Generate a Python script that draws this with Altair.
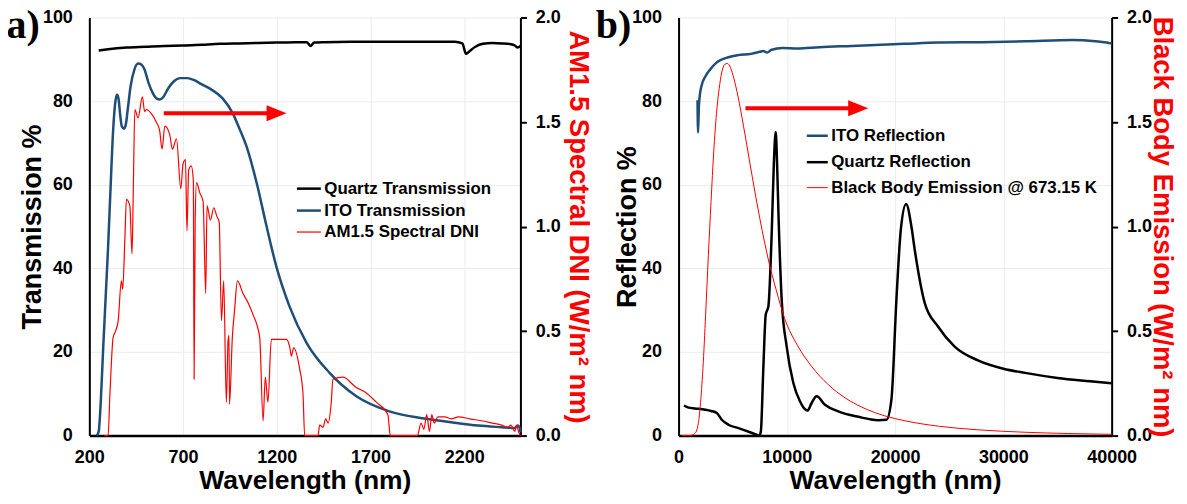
import altair as alt
import pandas as pd

FONT = "Liberation Sans"
BLUE = "#1F4E79"

# ---------------- Panel a: transmission ----------------
quartz_t_wl = [250, 300, 400, 500, 600, 700, 800, 900, 1000, 1100, 1200, 1300, 1360, 1380, 1400,
               1450, 1600, 1800, 2000, 2150, 2190, 2210, 2230, 2260, 2300, 2350, 2400, 2450, 2470,
               2485, 2500]
quartz_t = [92.1, 92.4, 92.8, 93.0, 93.2, 93.3, 93.5, 93.7, 93.8, 93.9, 94.0, 94.1, 94.1, 93.2, 94.0,
            94.1, 94.2, 94.2, 94.2, 94.2, 93.8, 91.3, 92.0, 93.0, 93.7, 93.9, 93.8, 93.6, 93.3,
            92.8, 93.2]

ito_t_wl = [240, 250, 262, 274, 287, 300, 314, 327, 338, 348, 356, 364, 373, 385, 395, 405, 420,
            440, 460, 479, 495, 515, 540, 560, 576, 595, 620, 650, 685, 723, 760, 800, 850, 910,
            966, 1000, 1040, 1093, 1146, 1198, 1269, 1359, 1482, 1625, 1801, 1968, 2100, 2275,
            2400, 2470, 2485, 2495, 2500]
ito_t = [0, 1, 9, 21, 33, 45, 60, 73, 79.5, 81.5, 80.5, 77, 74, 73.4, 74.5, 78, 83.5,
         87.5, 89, 88.7, 87.5, 84.5, 81.8, 80.6, 80.4, 81, 83, 84.7, 85.5, 85.5, 85, 84, 82.8, 80.7,
         77, 73.5, 69, 60.4, 50, 40.4, 30.8, 22.2, 15, 9.4, 5.8, 4.2, 3.4, 2.4,
         2.0, 1.8, 2.4, 2.0, 0.8]

am15_wl = [280, 300, 310, 327, 340, 354, 371, 378, 390, 398, 416, 428, 435, 443, 460, 483, 495,
           504, 531, 557, 575, 588, 603, 629, 643, 665, 688, 700, 713, 721, 730, 744, 755, 759,
           765, 772, 790, 807, 821, 828, 846, 864, 880, 893, 905, 917, 931, 940, 945, 948, 963,
           975, 990, 1020, 1050, 1073, 1109, 1127, 1139, 1153, 1171, 1198, 1251, 1270, 1278,
           1290, 1322, 1340, 1349, 1420, 1429, 1447, 1461, 1474, 1490, 1500, 1553, 1624, 1669,
           1731, 1793, 1806, 1950, 1970, 1985, 2000, 2015, 2027, 2040, 2060, 2096, 2130, 2170,
           2230, 2300, 2350, 2400, 2430, 2450, 2470, 2480, 2490, 2500]
am15_dni = [0, 0.0, 0.2, 0.47, 0.50, 0.55, 0.74, 0.70, 0.95, 1.13, 1.10, 0.87, 1.2, 1.56, 1.52,
            1.62, 1.55, 1.56, 1.54, 1.50, 1.46, 1.37, 1.48, 1.44, 1.37, 1.42, 1.18, 1.30, 1.32,
            0.98, 1.27, 1.29, 1.22, 0.27, 1.05, 1.21, 1.16, 1.12, 0.68, 1.10, 1.03, 1.09, 1.05,
            1.02, 0.55, 0.74, 0.16, 0.45, 0.48, 0.15, 0.47, 0.60, 0.74, 0.68, 0.63, 0.58, 0.47,
            0.07, 0.28, 0.16, 0.46, 0.46, 0.46, 0.42, 0.38, 0.42, 0.32, 0.2, 0.0, 0.0, 0.05, 0.04,
            0.08, 0.06, 0.15, 0.27, 0.28, 0.23, 0.21, 0.16, 0.10, 0.0, 0.0, 0.06, 0.03, 0.10, 0.02,
            0.10, 0.06, 0.09, 0.09, 0.08, 0.09, 0.08, 0.07, 0.06, 0.05, 0.04, 0.05, 0.02, 0.05,
            0.02, 0.0]

# ---------------- Panel b: reflection ----------------
ito_r_wl = [1750, 1800, 1880, 2100, 2500, 2900, 3500, 4600, 5500, 6700, 7500, 7815, 8170, 8600,
            9585, 10970, 13000, 16000, 20880, 24000, 28000, 32000, 36400, 38500, 40000]
ito_r = [80.2, 72.5, 79.0, 83.5, 86.0, 87.5, 89.2, 90.5, 91.0, 91.3, 91.8, 92.0, 91.6, 92.3,
         92.7, 92.6, 92.9, 93.2, 93.7, 94.0, 94.1, 94.3, 94.6, 94.3, 93.8]

quartz_r_wl = [500, 920, 1500, 2460, 3000, 3530, 3990, 4608, 5530, 6608, 7220, 7450, 7600, 7834,
               8049, 8295, 8602, 8800, 8970, 9100, 9218, 9525, 9985, 10600, 11215, 11600, 11920,
               12290, 12750, 13520, 14750, 16590, 18430, 19200, 19660, 20120, 20525, 21015, 21505,
               21815, 22740, 23960, 25500, 27650, 30000, 32000, 35000, 38000, 40000]
quartz_r = [7.2, 6.7, 6.5, 6.2, 5.9, 5.4, 3.8, 2.6, 1.8, 0.8, 0.2, 0.0, 1.0, 16.5,
            28.9, 30.9, 48.4, 65.0, 72.6, 65.0, 53.9, 32.5, 21.3, 12.6, 8.2, 6.5, 6.0,
            7.8, 9.4, 7.4, 5.8, 4.5, 3.7, 3.8, 8.6, 32.5, 49.2, 55.4, 50.0,
            44.4, 31.7, 26.1, 21.3, 18.0, 16.0, 15.0, 13.8, 13.0, 12.5]

bb_wl = [300, 1000, 1500, 1800, 2000, 2250, 2500, 2750, 3000, 3250, 3500, 3750, 4000, 4250, 4500,
         4800, 5100, 5500, 6000, 6800, 7500, 8300, 9000, 9800, 11000, 12300, 13800, 15400, 17400,
         19000, 21000, 24000, 27600, 32000, 36000, 40000]
bb_em = [0, 0.0, 0.01, 0.05, 0.14, 0.32, 0.58, 0.86, 1.12, 1.36, 1.54, 1.66, 1.74, 1.775, 1.78,
         1.76, 1.71, 1.62, 1.48, 1.24, 1.04, 0.84, 0.70, 0.56, 0.43, 0.33, 0.245, 0.18, 0.125,
         0.095, 0.07, 0.045, 0.028, 0.016, 0.01, 0.006]

# ---------------- axes / labels ----------------
xa_ticks = [200, 700, 1200, 1700, 2200]
xb_ticks = [0, 10000, 20000, 30000, 40000]
left_ticks = [0, 20, 40, 60, 80, 100]
right_ticks = [0, 0.5, 1.0, 1.5, 2.0]

series_a = ["Quartz Transmission", "ITO Transmission", "AM1.5 Spectral DNI"]
series_b = ["ITO Reflection", "Quartz Reflection", "Black Body Emission @ 673.15 K"]

# annotation arrows (data units: start, shaft end, head centre, level)
arrow_a_x = [597, 1165]
arrow_a_head = [1199]
arrow_a_y = [77.1]
arrow_b_x = [6175, 16130]
arrow_b_head = [16590]
arrow_b_y = [78.3]


def long_df(pairs):
    rows = []
    for name, xs, ys in pairs:
        for x, y in zip(xs, ys):
            rows.append({"wl": x, "val": y, "series": name})
    return pd.DataFrame(rows)


def make_panel(left_df, right_df, order, colors, widths, xdom, xticks, ytitle, rtitle,
               lx, ly, sym, rpad, ax, ahead, ay, label, width, ltpad, rtpad):
    legend = alt.Legend(title=None, orient="none", legendX=lx, legendY=ly,
                        symbolType="stroke", symbolSize=sym * sym, labelFont=FONT,
                        labelFontSize=16.9, labelFontWeight="bold", labelColor="black",
                        labelOffset=2, rowPadding=rpad, padding=0, labelLimit=500)
    color = alt.Color("series:N", scale=alt.Scale(domain=order, range=colors), legend=legend)
    sw = alt.StrokeWidth("series:N",
                         scale=alt.Scale(type="ordinal", domain=order, range=widths),
                         legend=legend)

    x = alt.X("wl:Q", scale=alt.Scale(domain=xdom, nice=False, zero=False),
              axis=alt.Axis(values=xticks, title="Wavelength (nm)", format="d", grid=True,
                            gridColor="#ececec", ticks=False, domainColor="black",
                            domainWidth=2.5, labelFlush=False, labelPadding=13,
                            titleFontSize=26.5, titlePadding=1))
    yl = alt.Y("val:Q", scale=alt.Scale(domain=[0, 100], nice=False),
               axis=alt.Axis(values=left_ticks, title=ytitle, grid=True, gridColor="#ececec",
                             ticks=False, domainColor="black", domainWidth=2,
                             labelPadding=17, titlePadding=ltpad, titleFontSize=27))
    yr = alt.Y("val:Q", scale=alt.Scale(domain=[0, 2], nice=False),
               axis=alt.Axis(orient="right", values=right_ticks, format=".1f", title=rtitle,
                             titleColor="#FF0000", titleFontSize=27.5, grid=False, ticks=True,
                             tickSize=6, tickWidth=2, tickColor="black", domainColor="black",
                             domainWidth=2, labelPadding=9, titlePadding=rtpad))

    lines_left = alt.Chart(left_df).mark_line(interpolate="monotone").encode(
        x=x, y=yl, color=color, strokeWidth=sw)
    lines_right = alt.Chart(right_df).mark_line(interpolate="monotone").encode(
        x=x, y=yr, color=color, strokeWidth=sw)

    arrow_df = pd.DataFrame({"wl": [ax[0]], "wl2": [ax[1]], "val": ay})
    head_df = pd.DataFrame({"wl": ahead, "val": ay})
    shaft = alt.Chart(arrow_df).mark_rule(color="#FF0000", strokeWidth=4).encode(
        x=x, x2="wl2:Q", y=yl)
    head = alt.Chart(head_df).mark_point(shape="M-1,-0.8L1,0L-1,0.8Z", filled=True,
                                         color="#FF0000", size=400, opacity=1,
                                         strokeWidth=0).encode(x=x, y=yl)
    lab = alt.Chart(pd.DataFrame({"lab": [label]})).mark_text(
        font="Liberation Serif", fontSize=40, fontWeight="bold", align="left",
        baseline="top", color="black").encode(
        x=alt.value(-83), y=alt.value(-11), text="lab:N")

    left = alt.layer(lines_left, shaft, head, lab)
    return alt.layer(left, lines_right).resolve_scale(y="independent").properties(
        width=width, height=419)


df_a_left = long_df([(series_a[0], quartz_t_wl, quartz_t), (series_a[1], ito_t_wl, ito_t)])
df_a_right = long_df([(series_a[2], am15_wl, am15_dni)])
df_b_left = long_df([(series_b[0], ito_r_wl, ito_r), (series_b[1], quartz_r_wl, quartz_r)])
df_b_right = long_df([(series_b[2], bb_wl, bb_em)])

panel_a = make_panel(df_a_left, df_a_right, series_a, ["black", BLUE, "#FF0000"], [2.5, 2.5, 1.2],
                     [200, 2500], xa_ticks, "Transmission %", "AM1.5 Spectral DNI (W/m² nm)",
                     206.5, 158, 24, 0, arrow_a_x, arrow_a_head, arrow_a_y, "a)", 432, -4, 3)
panel_b = make_panel(df_b_left, df_b_right, series_b, [BLUE, "black", "#FF0000"], [2.5, 2.5, 1.0],
                     [0, 40000], xb_ticks, "Reflection %", "Black Body Emission (W/m² nm)",
                     127, 106.5, 21, 6.5, arrow_b_x, arrow_b_head, arrow_b_y, "b)", 434, -10, -4)

chart = alt.hconcat(panel_a, panel_b, spacing=158.5, bounds="flush").resolve_scale(
    x="independent", color="independent", strokeWidth="independent"
).properties(
    padding={"left": -1.5, "top": -2, "right": 3, "bottom": 0}
).configure(background="white").configure_view(strokeWidth=0).configure_axis(
    labelFont=FONT, titleFont=FONT, labelFontSize=18, labelFontWeight="bold",
    labelColor="black", titleFontSize=26, titleFontWeight="bold", titleColor="black"
)

chart.save("out.html", embed_options={"renderer": "svg", "actions": False})
